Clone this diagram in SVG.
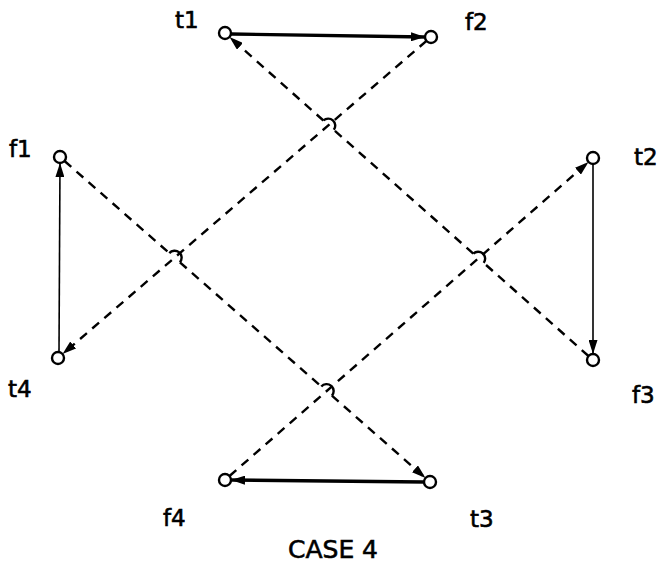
<svg xmlns="http://www.w3.org/2000/svg" width="667" height="568" viewBox="0 0 667 568">
<style>
.node{fill:#fff;stroke:#000;stroke-width:2.4}
.lbl{font-family:"DejaVu Sans",sans-serif;font-size:23px;fill:#000;stroke:#000;stroke-width:0.6}
.dash{fill:none;stroke:#000;stroke-width:2.4;stroke-dasharray:9 7;marker-end:url(#ah)}
.hop{fill:none;stroke:#000;stroke-width:2.4}
.solid{fill:none;stroke:#000;stroke-width:3.4;marker-end:url(#ah)}
.thin{fill:none;stroke:#000;stroke-width:1.6;marker-end:url(#ah)}
</style>
<defs>
<marker id="ah" markerUnits="userSpaceOnUse" viewBox="0 0 14 9" refX="14" refY="4.5" markerWidth="14" markerHeight="9" orient="auto">
<path d="M0,0 L14,4.5 L0,9 z" fill="#000"/>
</marker>
</defs>
<rect width="667" height="568" fill="#fff"/>
<g id="connectors">
<path class="solid" d="M231,34 L425,37"/>
<path class="solid" d="M424,482 L231,480"/>
<path class="thin" d="M59,352 L60,163"/>
<path class="thin" d="M593,164 L593,354"/>
<path class="dash" d="M426.5,40.9 L62.5,354.1"/>
<path class="dash" d="M588.5,356 L483.7,262.9 M473.3,253.6 L333.8,129.8 M323.4,120.5 L229.5,37"/>
<path class="hop" d="M483.7,262.9 A7,7 0 0 0 473.3,253.6 M333.8,129.8 A7,7 0 0 0 323.4,120.5"/>
<path class="dash" d="M64.5,161 L169.3,253.1 M179.9,262.3 L321.3,386.5 M331.9,395.7 L425.5,478"/>
<path class="hop" d="M169.3,253.1 A7,7 0 0 1 179.9,262.3 M321.3,386.5 A7,7 0 0 1 331.9,395.7"/>
<path class="dash" d="M229.5,476 L588.5,162"/>
</g>
<g id="t1"><circle class="node" cx="225" cy="33" r="6"/><text class="lbl" x="175" y="28">t1</text></g>
<g id="f2"><circle class="node" cx="431" cy="37" r="6"/><text class="lbl" x="465" y="30">f2</text></g>
<g id="f1"><circle class="node" cx="60" cy="157" r="6"/><text class="lbl" x="9" y="157">f1</text></g>
<g id="t2"><circle class="node" cx="593" cy="158" r="6"/><text class="lbl" x="634" y="165">t2</text></g>
<g id="t4"><circle class="node" cx="58" cy="358" r="6"/><text class="lbl" x="8" y="397">t4</text></g>
<g id="f3"><circle class="node" cx="593" cy="360" r="6"/><text class="lbl" x="632" y="403">f3</text></g>
<g id="f4"><circle class="node" cx="225" cy="480" r="6"/><text class="lbl" x="163" y="526">f4</text></g>
<g id="t3"><circle class="node" cx="430" cy="482" r="6"/><text class="lbl" x="470" y="527">t3</text></g>
<text class="lbl" x="333" y="558" text-anchor="middle" style="font-size:25px">CASE 4</text>
</svg>
